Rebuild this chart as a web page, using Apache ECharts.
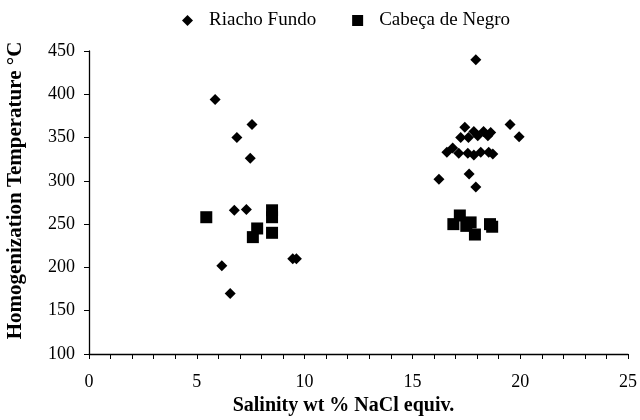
<!DOCTYPE html>
<html><head><meta charset="utf-8">
<script src="https://cdn.jsdelivr.net/npm/echarts@6/dist/echarts.min.js"></script>
<style>html,body{margin:0;padding:0;background:#fff}#c{width:640px;height:420px}</style>
</head><body><div id="c"></div>
<script>
const seriesNames = ['Riacho Fundo', 'Cabeça de Negro'];
const riachoFundo = [
  [5.85, 394], [7.56, 365], [6.86, 350], [7.48, 326], [6.74, 266], [7.3, 267],
  [9.45, 210], [9.62, 210], [6.16, 202], [6.55, 170],
  [17.94, 440], [19.53, 365], [19.95, 351], [16.23, 302], [17.63, 308], [17.94, 293],
  [17.43, 362], [17.85, 357], [18.3, 357], [18.63, 356], [17.24, 350], [17.6, 350],
  [18.03, 352], [18.5, 352], [16.87, 338], [16.6, 333], [17.15, 332], [17.57, 332],
  [17.85, 330], [18.17, 333], [18.54, 333], [18.73, 331]
];
const cabecaDeNegro = [
  [5.44, 258], [8.49, 266], [8.49, 258], [8.49, 240], [7.8, 245], [7.6, 235],
  [17.2, 260], [16.9, 250], [17.7, 252], [17.5, 248], [17.9, 238], [18.7, 247], [18.6, 250]
];
const xTitle = 'Salinity wt % NaCl equiv.';
const yTitle = 'Homogenization Temperature °C';

const font = 'Liberation Serif, Times New Roman, serif';
const chart = echarts.init(document.getElementById('c'), null, {renderer: 'canvas'});
chart.setOption({
  animation: false,
  backgroundColor: '#fff',
  textStyle: {fontFamily: font},
  legend: {
    top: 6, left: 177, itemGap: 36, itemWidth: 11, itemHeight: 11,
    textStyle: {fontFamily: font, fontSize: 19, color: '#000', padding: [0, 0, 0, 11]},
    data: [{name: seriesNames[0], icon: 'diamond'}, {name: seriesNames[1], icon: 'rect'}]
  },
  grid: {left: 89, right: 12, top: 51, bottom: 66, outerBoundsMode: 'none', containLabel: false},
  xAxis: {
    type: 'value', min: 0, max: 25, interval: 1,
    name: xTitle, nameLocation: 'middle', nameGap: 35,
    nameTextStyle: {fontFamily: font, fontSize: 20, fontWeight: 'bold', color: '#000', padding: [0, 30, 0, 0]},
    axisLine: {lineStyle: {color: '#000', width: 1.3}},
    axisTick: {show: true, inside: false, length: 5, lineStyle: {color: '#000'}},
    axisLabel: {fontFamily: font, fontSize: 18, color: '#000', margin: 19,
      formatter: v => (v % 5 === 0 ? String(v) : '')},
    splitLine: {show: false}
  },
  yAxis: {
    type: 'value', min: 100, max: 450, interval: 50,
    name: yTitle, nameLocation: 'middle', nameGap: 63, nameRotate: 90,
    nameTextStyle: {fontFamily: font, fontSize: 21, fontWeight: 'bold', color: '#000', padding: [0, 0, 0, 24]},
    axisLine: {show: true, lineStyle: {color: '#000', width: 1.3}},
    axisTick: {show: true, length: 5, lineStyle: {color: '#000'}},
    axisLabel: {fontFamily: font, fontSize: 18, color: '#000', margin: 14},
    splitLine: {show: false}
  },
  series: [
    {name: seriesNames[0], type: 'scatter', symbol: 'diamond', symbolSize: 11,
     itemStyle: {color: '#000', opacity: 1}, data: riachoFundo},
    {name: seriesNames[1], type: 'scatter', symbol: 'rect', symbolSize: 12,
     itemStyle: {color: '#000', opacity: 1}, data: cabecaDeNegro}
  ]
});
</script></body></html>
